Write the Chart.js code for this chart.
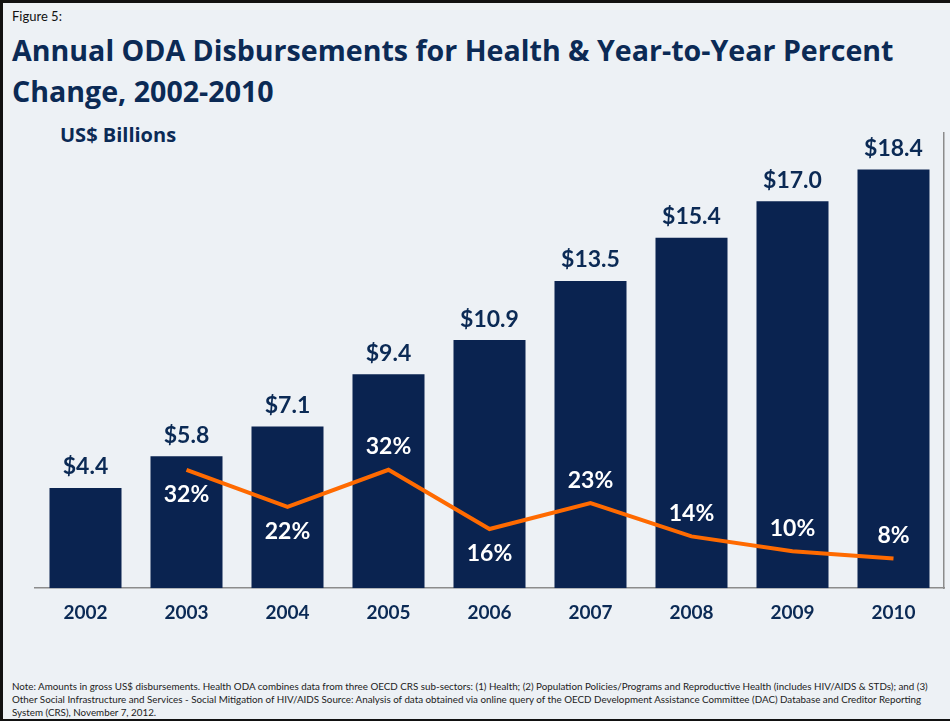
<!DOCTYPE html>
<html>
<head>
<meta charset="utf-8">
<script src="https://cdn.jsdelivr.net/npm/chart.js@4.4.1/dist/chart.umd.min.js"></script>
<style>
  html, body { margin: 0; padding: 0; }
  body { width: 950px; height: 721px; background: #edf1f5; position: relative; overflow: hidden; font-family: Lato, "Open Sans", sans-serif; }
  #frame { position: absolute; left: 0; top: 0; height: 721px; border-left: 3px solid #111; border-top: 3px solid #111; border-bottom: 2px solid #111; box-sizing: border-box; width: 952px; }
  #fig { position: absolute; left: 12px; top: 8px; font-size: 13px; color: #111; }
  #title { position: absolute; left: 12px; top: 29px; font-family: "Open Sans", Lato, sans-serif; font-size: 28.6px; font-weight: 700; color: #0b2a55; line-height: 41px; white-space: nowrap; }
  #unit { position: absolute; left: 60px; top: 121px; font-family: "Open Sans", Lato, sans-serif; font-size: 20px; font-weight: 700; color: #0b2a55; }
  #note { position: absolute; left: 12px; top: 680px; font-size: 9.8px; line-height: 13px; color: #222; width: 930px; }
  #wrap { position: absolute; left: 0; top: 100px; width: 950px; height: 556px; }
</style>
</head>
<body>
<div id="frame"></div>
<div id="fig">Figure 5:</div>
<div id="title">Annual ODA Disbursements for Health &amp; Year-to-Year Percent<br>Change, 2002-2010</div>
<div id="unit">US$ Billions</div>
<div id="wrap"><canvas id="c"></canvas></div>
<div id="note">Note: Amounts in gross US$ disbursements. Health ODA combines data from three OECD CRS sub-sectors: (1) Health; (2) Population Policies/Programs and Reproductive Health (includes HIV/AIDS &amp; STDs); and (3) Other Social Infrastructure and Services - Social Mitigation of HIV/AIDS Source: Analysis of data obtained via online query of the OECD Development Assistance Committee (DAC) Database and Creditor Reporting System (CRS), November 7, 2012.</div>
<script>
const years = ['2002','2003','2004','2005','2006','2007','2008','2009','2010'];
const disbursements = [4.4, 5.8, 7.1, 9.4, 10.9, 13.5, 15.4, 17.0, 18.4];
const pctChange = [null, 32, 22, 32, 16, 23, 14, 10, 8];
const pctLabelSide = [null, 'below', 'below', 'above', 'below', 'above', 'above', 'above', 'above'];

const NAVY = '#0a2350';
const TEXT = '#0b2a55';
const ORANGE = '#ff6a00';
const FONT = 'Lato, "Open Sans", sans-serif';

const labelPlugin = {
  id: 'labels',
  afterDatasetsDraw(chart) {
    const ctx = chart.ctx;
    ctx.save();
    ctx.textAlign = 'center';
    ctx.textBaseline = 'middle';
    ctx.font = 'bold 23px ' + FONT;
    const barMeta = chart.getDatasetMeta(0);
    barMeta.data.forEach((el, i) => {
      ctx.fillStyle = TEXT;
      ctx.fillText('$' + disbursements[i].toFixed(1), el.x, el.y - 21);
    });
    const lineMeta = chart.getDatasetMeta(1);
    lineMeta.data.forEach((el, i) => {
      if (pctChange[i] == null) return;
      ctx.fillStyle = '#ffffff';
      const dy = pctLabelSide[i] === 'below' ? 25 : -23;
      ctx.fillText(pctChange[i] + '%', el.x, el.y + dy);
    });
    ctx.restore();
  }
};

new Chart(document.getElementById('c'), {
  data: {
    labels: years,
    datasets: [
      {
        type: 'bar',
        data: disbursements,
        backgroundColor: NAVY,
        categoryPercentage: 1,
        barPercentage: 0.713,
        yAxisID: 'y',
        order: 1
      },
      {
        type: 'line',
        data: pctChange,
        borderColor: ORANGE,
        borderWidth: 4,
        pointRadius: 0,
        tension: 0,
        spanGaps: false,
        yAxisID: 'y1',
        order: 0
      }
    ]
  },
  options: {
    responsive: true,
    maintainAspectRatio: false,
    animation: false,
    layout: { padding: { left: 35, right: 6, top: 33, bottom: 19 } },
    plugins: { legend: { display: false }, tooltip: { enabled: false } },
    scales: {
      x: {
        grid: { display: false, drawTicks: false },
        border: { display: true, color: '#8c8c8c', width: 1.5 },
        ticks: { color: TEXT, font: { family: FONT, size: 19, weight: 'bold' }, padding: 13 }
      },
      y: { display: false, min: 0, max: 20 },
      y1: {
        position: 'right', min: 0, max: 123,
        grid: { display: false, drawTicks: false },
        ticks: { display: false },
        border: { display: true, color: '#8c8c8c', width: 1.5 }
      }
    }
  },
  plugins: [labelPlugin]
});
</script>
</body>
</html>
